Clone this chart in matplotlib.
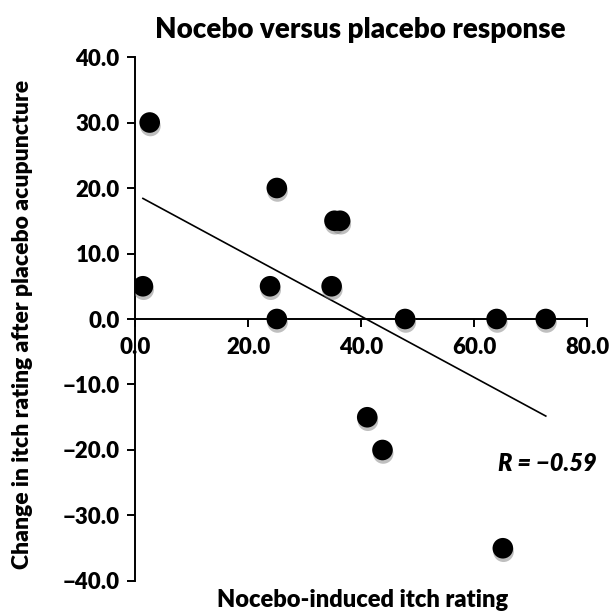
import numpy as np
import matplotlib.pyplot as plt
import matplotlib.patheffects as pe
from matplotlib.ticker import FuncFormatter

plt.rcParams['font.family'] = ['Lato', 'DejaVu Sans']
W = 'heavy'

# nocebo-induced itch rating vs change after placebo acupuncture
nocebo = np.array([2.6, 25.1, 35.3, 36.3, 1.4, 23.9, 34.8, 25.1,
                   47.8, 64.0, 72.7, 41.1, 43.8, 65.1])
change = np.array([30, 20, 15, 15, 5, 5, 5, 0,
                   0, 0, 0, -15, -20, -35])
r_label = "R = \u22120.59"

fig = plt.figure(figsize=(6.12, 6.15), dpi=100)
ax = fig.add_axes([0.2206, 0.0553, 0.7386, 0.852])

# shaded sphere-ish markers with a soft shadow
sc = ax.scatter(nocebo, change, s=220, color='black', zorder=3, linewidths=0)
sc.set_path_effects([pe.SimplePatchShadow(offset=(0.5, -2.5), shadow_rgbFace='0.5', alpha=0.5),
                     pe.Normal()])

# line of best fit
a, b = np.polyfit(nocebo, change, 1)
xs = np.array([nocebo.min(), nocebo.max()])
ax.plot(xs, a*xs + b, color='black', lw=1.2, zorder=2)

ax.set_xlim(0, 80)
ax.set_ylim(-40, 40)
ax.set_xticks([0, 20, 40, 60, 80])
ax.set_yticks(np.arange(-40, 41, 10))
fmt = FuncFormatter(lambda v, p: f"{v:.1f}".replace('-', '\u2212'))
ax.xaxis.set_major_formatter(fmt)
ax.yaxis.set_major_formatter(fmt)

ax.spines['right'].set_visible(False)
ax.spines['top'].set_visible(False)
ax.spines['bottom'].set_position(('data', 0))
ax.spines['left'].set_linewidth(1.4)
ax.spines['bottom'].set_linewidth(1.4)
ax.tick_params(axis='both', direction='out', length=6, width=1.4, labelsize=16)
ax.tick_params(axis='x', pad=7)
ax.tick_params(axis='y', pad=5)
for lab in ax.get_xticklabels() + ax.get_yticklabels():
    lab.set_fontweight(W)

ax.text(64.2, -22.1, r_label, fontsize=17, fontweight=W, fontstyle='italic',
        ha='left', va='center')

fig.text(0.588, 0.951, "Nocebo versus placebo response", fontsize=20,
         fontweight=W, ha='center', va='center')
fig.text(0.592, 0.024, "Nocebo-induced itch rating", fontsize=17,
         fontweight=W, ha='center', va='center')
fig.text(0.036, 0.472, "Change in itch rating after placebo acupuncture",
         fontsize=16.5, fontweight=W, rotation=90, ha='center', va='center')

fig.savefig("out.png", dpi=100)
